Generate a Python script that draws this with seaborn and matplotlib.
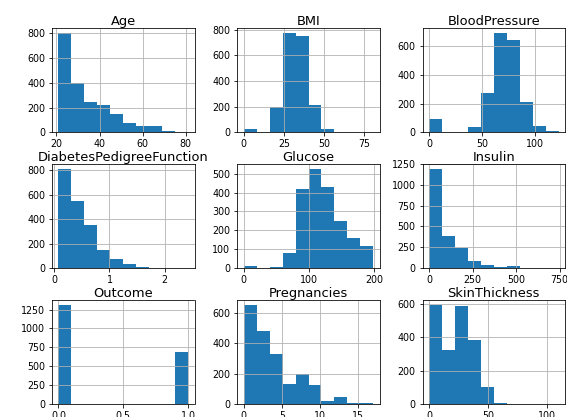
# Histograms of every column of the diabetes data set (10 bins each)

import seaborn as sns
import numpy as np
import matplotlib.pyplot as plt
import pandas as pd

columns = ['Age', 'BMI', 'BloodPressure', 'DiabetesPedigreeFunction', 'Glucose',
           'Insulin', 'Outcome', 'Pregnancies', 'SkinThickness']

# min and max of each column (edges of the 10 bins)
col_min = [21, 0, 0, 0.078, 0, 0, 0, 0, 0]
col_max = [81, 80.6, 122, 2.42, 199, 744, 1, 17, 110]

# counts per bin
age_counts = [800, 400, 243, 220, 145, 75, 55, 50, 15, 5]
bmi_counts = [28, 0, 200, 774, 748, 212, 29, 5, 2, 2]
bp_counts = [90, 2, 3, 35, 273, 691, 642, 212, 42, 10]
dpf_counts = [814, 552, 355, 150, 79, 33, 8, 5, 2, 2]
glucose_counts = [12, 0, 6, 78, 420, 526, 431, 249, 161, 118]
insulin_counts = [1192, 391, 240, 84, 40, 20, 28, 5, 0, 6]
outcome_counts = [1316, 0, 0, 0, 0, 0, 0, 0, 0, 684]
preg_counts = [655, 480, 329, 129, 195, 125, 22, 46, 9, 4]
skin_counts = [595, 325, 585, 385, 100, 8, 0, 0, 0, 2]

all_counts = [age_counts, bmi_counts, bp_counts, dpf_counts, glucose_counts,
              insulin_counts, outcome_counts, preg_counts, skin_counts]

# tick positions as shown in the picture
x_ticks = [[20, 40, 60, 80], [0, 25, 50, 75], [0, 50, 100], [0, 1, 2], [0, 100, 200],
           [0, 250, 500, 750], [0.0, 0.5, 1.0], [0, 5, 10, 15], [0, 50, 100]]
y_ticks = [range(0, 801, 200), range(0, 801, 200), range(0, 601, 200),
           range(0, 801, 200), range(0, 501, 100), range(0, 1251, 250),
           range(0, 1251, 250), range(0, 601, 200), range(0, 601, 200)]

plt.rcParams['font.family'] = ['DejaVu Sans']
plt.rcParams['xtick.labelsize'] = 9.5
plt.rcParams['ytick.labelsize'] = 9.5

fig, axes = plt.subplots(3, 3, figsize=(567/72, 417/72), dpi=72)
fig.subplots_adjust(left=52/567, right=565/567, top=1-28/417, bottom=1-404/417,
                    wspace=0.30, hspace=0.30)

for i, ax in enumerate(axes.flat):
    name = columns[i]
    edges = np.linspace(col_min[i], col_max[i], 11)
    centers = (edges[:-1] + edges[1:]) / 2
    df = pd.DataFrame({name: centers, 'n': all_counts[i]})
    sns.histplot(data=df, x=name, weights='n', bins=list(edges), ax=ax,
                 color='#1f77b4', alpha=1, edgecolor='none', linewidth=0)
    ax.set_xticks(x_ticks[i])
    ax.set_yticks(list(y_ticks[i]))
    ax.grid(True, color='#b0b0b0', linewidth=0.8)
    ax.set_xlabel('')
    ax.set_ylabel('')
    ax.set_title(name, fontsize=13, pad=2)

plt.savefig('out.png', dpi=72)
